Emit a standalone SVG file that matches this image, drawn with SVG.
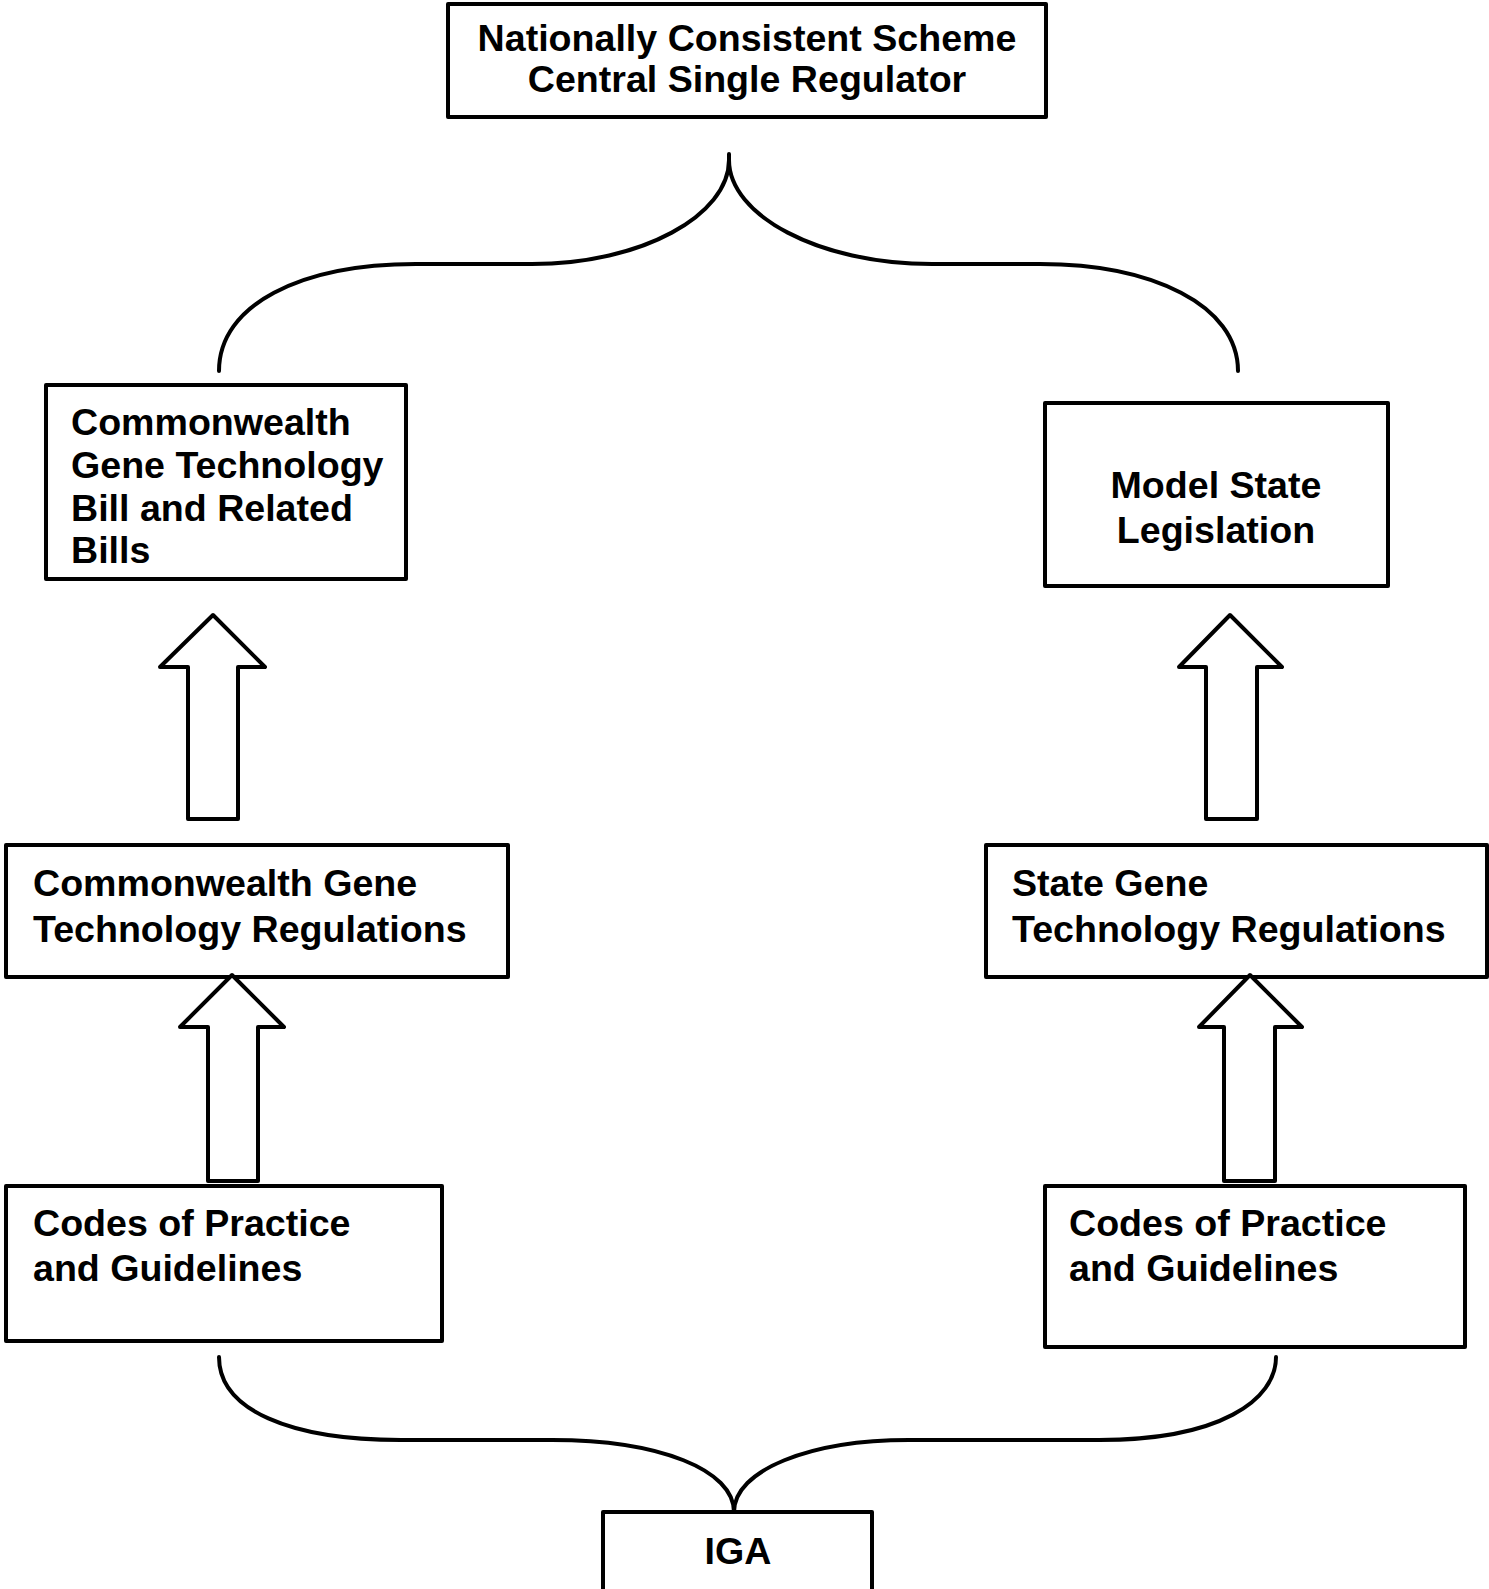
<svg xmlns="http://www.w3.org/2000/svg" width="1489" height="1589" viewBox="0 0 1489 1589">
<style>
.box{fill:#fff;stroke:#000;stroke-width:4;stroke-linejoin:round}
.t{font-family:"Liberation Sans",Arial,sans-serif;font-weight:bold;font-size:37.6px;fill:#000}
.c{text-anchor:middle}
.arr{fill:#fff;stroke:#000;stroke-width:4;stroke-linejoin:round}
.br{fill:none;stroke:#000;stroke-width:4;stroke-linecap:round}
</style>
<rect width="1489" height="1589" fill="#fff"/>
<g id="connectors">
<path class="br" d="M219,371 C219,305 300,264 416,264 L532,264 C642,264 729,215 729,160 L729,154"/>
<path class="br" d="M729,160 C729,215 818,264 932,264 L1040,264 C1152,264 1238,305 1238,371"/>
<path class="br" d="M219,1357 C219,1410 290,1440 401,1440 L552,1440 C660,1440 734,1470 734,1512"/>
<path class="br" d="M734,1512 C734,1470 810,1440 909,1440 L1099,1440 C1220,1440 1276,1400 1276,1357"/>
</g>
<g id="top">
<rect class="box" x="448" y="4" width="598" height="113"/>
<text class="t c" x="747" y="51">Nationally Consistent Scheme</text>
<text class="t c" x="747" y="92">Central Single Regulator</text>
</g>
<g id="cw-bill">
<rect class="box" x="46" y="385" width="360" height="194"/>
<text class="t" x="71" y="435">Commonwealth</text>
<text class="t" x="71" y="478">Gene Technology</text>
<text class="t" x="71" y="521">Bill and Related</text>
<text class="t" x="71" y="563">Bills</text>
</g>
<g id="model-state">
<rect class="box" x="1045" y="403" width="343" height="183"/>
<text class="t c" x="1216" y="498">Model State</text>
<text class="t c" x="1216" y="543">Legislation</text>
</g>
<g id="cw-regs">
<rect class="box" x="6" y="845" width="502" height="132"/>
<text class="t" x="33" y="896">Commonwealth Gene</text>
<text class="t" x="33" y="942">Technology Regulations</text>
</g>
<g id="state-regs">
<rect class="box" x="986" y="845" width="501" height="132"/>
<text class="t" x="1012" y="896">State Gene</text>
<text class="t" x="1012" y="942">Technology Regulations</text>
</g>
<g id="cw-codes">
<rect class="box" x="6" y="1186" width="436" height="155"/>
<text class="t" x="33" y="1236">Codes of Practice</text>
<text class="t" x="33" y="1281">and Guidelines</text>
</g>
<g id="state-codes">
<rect class="box" x="1045" y="1186" width="420" height="161"/>
<text class="t" x="1069" y="1236">Codes of Practice</text>
<text class="t" x="1069" y="1281">and Guidelines</text>
</g>
<g id="iga">
<rect class="box" x="603" y="1512" width="269" height="82"/>
<text class="t c" x="738" y="1564">IGA</text>
</g>
<g id="arrows">
<polygon class="arr" points="213,615 265,667 238,667 238,819 188,819 188,667 160,667"/>
<polygon class="arr" points="232,975 284,1027 258,1027 258,1181 208,1181 208,1027 180,1027"/>
<polygon class="arr" points="1230,615 1282,667 1257,667 1257,819 1206,819 1206,667 1179,667"/>
<polygon class="arr" points="1250,975 1302,1027 1275,1027 1275,1181 1224,1181 1224,1027 1199,1027"/>
</g>
</svg>
